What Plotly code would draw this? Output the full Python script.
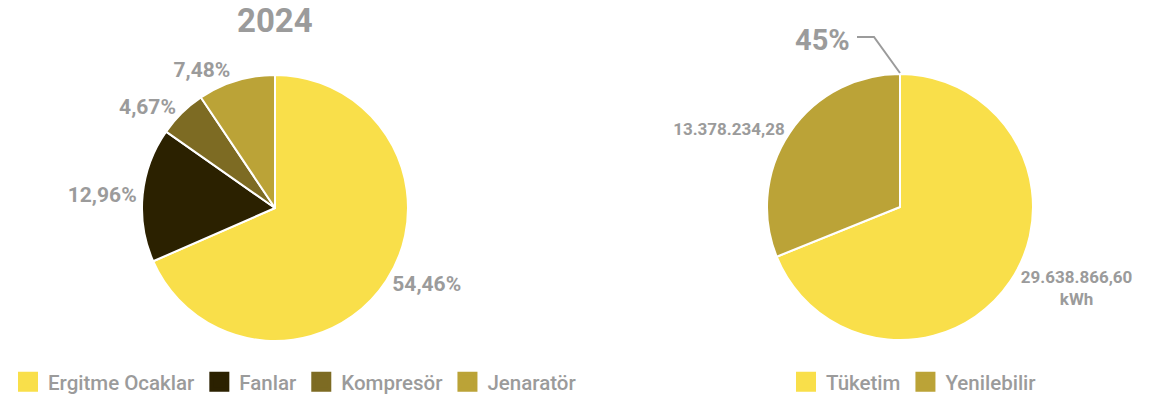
import plotly.graph_objects as go

W, H = 1174, 400
OFF = 0  # body margin removed via post_script

left_labels = ["Ergitme Ocaklar", "Fanlar", "Kompresör", "Jenaratör"]
left_values = [54.46, 12.96, 4.67, 7.48]
left_text = ["54,46%", "12,96%", "4,67%", "7,48%"]
left_colors = ["#F9DF4A", "#2B2100", "#7D6B23", "#BBA337"]

right_labels = ["Tüketim", "Yenilebilir"]
right_values = [29638866.60, 13378234.28]
right_text = ["29.638.866,60<br>kWh", "13.378.234,28"]
right_colors = ["#F9DF4A", "#BBA337"]

title_text = "2024"
ratio_text = "45%"

GRAY = "#9B9B9B"
FONT = "Roboto"

def sx(x):
    return (x - OFF) / W

def sy(y):
    return 1 - (y - OFF) / H

def dom(cx, cy, r):
    return dict(x=[sx(cx - r), sx(cx + r)], y=[sy(cy + r), sy(cy - r)])

fig = go.Figure()
fig.add_trace(go.Pie(
    labels=left_labels, values=left_values, text=left_text,
    textinfo="text", textposition="outside", sort=False, direction="clockwise", rotation=0,
    marker=dict(colors=left_colors, line=dict(color="white", width=2)),
    textfont=dict(family=FONT, size=21, color=GRAY, weight="bold"),
    domain=dom(275, 208, 133), showlegend=False, hoverinfo="label+text",
))
fig.add_trace(go.Pie(
    labels=right_labels, values=right_values, text=right_text,
    textinfo="text", textposition="outside", sort=False, direction="clockwise", rotation=0,
    marker=dict(colors=right_colors, line=dict(color="white", width=2)),
    textfont=dict(family=FONT, size=17, color=GRAY, weight="bold"),
    domain=dom(900, 207, 133), showlegend=False, hoverinfo="label+text",
))

# legend entries (square swatches)
for lab, col in zip(left_labels, left_colors):
    fig.add_trace(go.Scatter(x=[None], y=[None], mode="markers", name=lab,
                             marker=dict(symbol="square", size=16, color=col,
                                         line=dict(color=col, width=4)),
                             legend="legend", showlegend=True))
for lab, col in zip(right_labels, right_colors):
    fig.add_trace(go.Scatter(x=[None], y=[None], mode="markers", name=lab,
                             marker=dict(symbol="square", size=16, color=col,
                                         line=dict(color=col, width=4)),
                             legend="legend2", showlegend=True))

fig.add_annotation(text=title_text, x=sx(275), y=sy(21), xref="paper", yref="paper",
                   showarrow=False, font=dict(family=FONT, size=33, color=GRAY, weight="bold"),
                   xanchor="center", yanchor="middle")
fig.add_annotation(text=ratio_text, x=sx(852), y=sy(40), xref="paper", yref="paper",
                   showarrow=False, font=dict(family=FONT, size=29, color=GRAY, weight="bold"),
                   xanchor="right", yanchor="middle")
fig.add_shape(type="path", xref="paper", yref="paper",
              path=f"M {sx(857)},{sy(37)} L {sx(874)},{sy(37)} L {sx(900)},{sy(73)}",
              line=dict(color=GRAY, width=2))

legend_font = dict(family=FONT, size=20.5, color=GRAY, weight=500)
fig.update_layout(
    width=W, height=H, margin=dict(l=0, r=0, t=0, b=0, autoexpand=False),
    paper_bgcolor="white", plot_bgcolor="white",
    font=dict(family=FONT, color=GRAY, size=16),
    xaxis=dict(visible=False), yaxis=dict(visible=False),
    legend=dict(orientation="h", x=sx(8), y=sy(382), xanchor="left", yanchor="middle",
                font=legend_font, itemsizing="trace"),
    legend2=dict(orientation="h", x=sx(786), y=sy(382), xanchor="left", yanchor="middle",
                 font=legend_font, itemsizing="trace"),
)

fig.write_html("out.html", config={"displayModeBar": False},
               post_script="document.body.style.margin='0';")
